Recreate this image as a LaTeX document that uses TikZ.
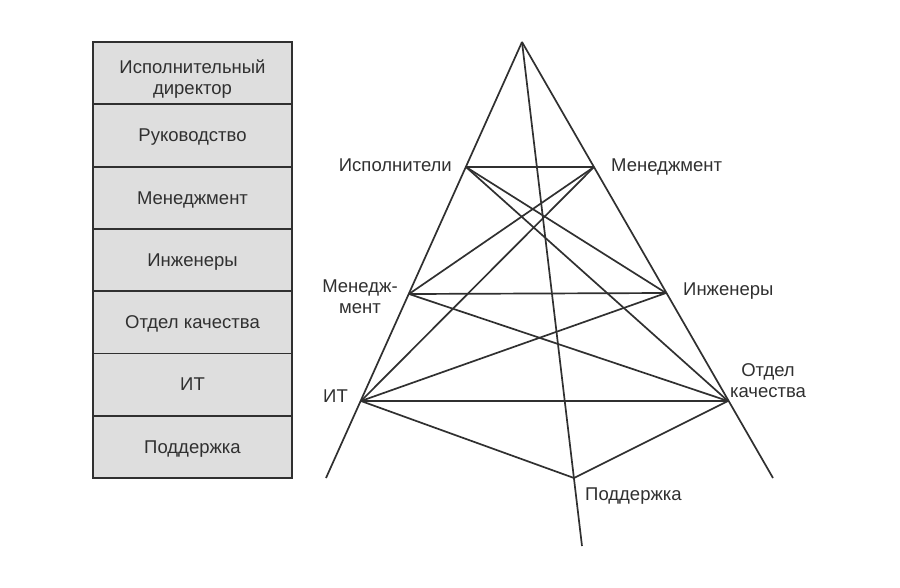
\documentclass[tikz,border=0pt]{standalone}
\usepackage{fontspec}
\setmainfont{Liberation Sans}
\usetikzlibrary{positioning}

\definecolor{ink}{HTML}{303030}
\definecolor{boxfill}{HTML}{DEDEDE}

\tikzset{
  level/.style={draw=ink, fill=boxfill, line width=1.8pt, minimum width=199pt,
    minimum height=62.3pt, inner sep=0pt, outer sep=0pt, align=center,
    text height=12.5pt, text depth=0pt},
  tag/.style={inner sep=0pt, align=center},
  tie/.style={draw=ink, line width=1.7pt}
}

\begin{document}
\begin{tikzpicture}[x=1pt, y=-1pt, color=ink, font=\fontsize{18.5}{21}\selectfont]

  \fill[white] (0,0) rectangle (900,587);
  \useasboundingbox (0,0) rectangle (900,587);

  % Left column of levels
  \node[level, text height=42pt] (r1) at (192.5,73.15) {Исполнительный\\директор};
  \node[level, below=0pt of r1] (r2) {Руководство};
  \node[level, below=0pt of r2] (r3) {Менеджмент};
  \node[level, below=0pt of r3] (r4) {Инженеры};
  \node[level, below=0pt of r4] (r5) {Отдел качества};
  \node[level, below=0pt of r5] (r6) {ИТ};
  \node[level, below=0pt of r6] (r7) {Поддержка};

  % Frame of the pyramid
  \coordinate (apex)  at (522,42);
  \coordinate (lfoot) at (326,478);
  \coordinate (rfoot) at (773,478);
  \coordinate (tail)  at (582,546);

  % Points on the frame
  \coordinate (exe) at (466,167);
  \coordinate (mgr) at (594,167);
  \coordinate (mgl) at (409,294);
  \coordinate (eng) at (666,293);
  \coordinate (it)  at (361,401);
  \coordinate (qa)  at (728,401);
  \coordinate (sup) at (574,478);

  % Labels
  \node[tag, anchor=base east] (exe-l) at (452,171) {Исполнители};
  \node[tag, anchor=base west] (mgr-l) at (611,171) {Менеджмент};
  \node[tag, anchor=base]      (mgl-l) at (360,313) {Менедж-\\мент};
  \node[tag, anchor=base west] (eng-l) at (683,295) {Инженеры};
  \node[tag, anchor=base east] (it-l)  at (348,402) {ИТ};
  \node[tag, anchor=base]      (qa-l)  at (768,397) {Отдел\\качества};
  \node[tag, anchor=base west] (sup-l) at (585,500) {Поддержка};

  % Three legs
  \draw[tie] (apex) -- (lfoot);
  \draw[tie] (apex) -- (rfoot);
  \draw[tie] (apex) -- (tail);

  % Top pair
  \draw[tie] (exe) -- (mgr);
  \draw[tie] (exe) -- (eng);
  \draw[tie] (exe) -- (qa);
  \draw[tie] (mgr) -- (mgl);
  \draw[tie] (mgr) -- (it);

  % Middle pair
  \draw[tie] (mgl) -- (eng);
  \draw[tie] (mgl) -- (qa);
  \draw[tie] (it) -- (eng);

  % Bottom
  \draw[tie] (it) -- (qa);
  \draw[tie] (it) -- (sup);
  \draw[tie] (sup) -- (qa);

\end{tikzpicture}
\end{document}
